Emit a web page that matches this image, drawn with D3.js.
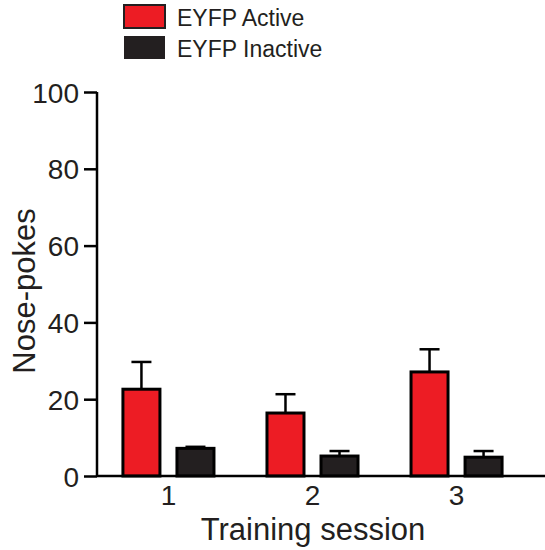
<!DOCTYPE html>
<html>
<head>
<meta charset="utf-8">
<script src="https://d3js.org/d3.v7.min.js"></script>
<style>
  body { margin: 0; background: #fff; }
  text { font-family: Arial, "Liberation Sans", sans-serif; fill: #231f20; }
</style>
</head>
<body>
<script>
// data
var sessions = ["1", "2", "3"];
var seriesNames = ["EYFP Active", "EYFP Inactive"];
var activeMean = [22.6, 16.4, 27.1];
var activeErr = [7.1, 4.9, 5.9];
var inactiveMean = [7.2, 5.2, 4.9];
var inactiveErr = [0.4, 1.3, 1.6];
var yTicks = [0, 20, 40, 60, 80, 100];

var colors = ["#ed1c24", "#231f20"];

var width = 545, height = 550;
var margin = { left: 97, right: 0, top: 92, bottom: 74 };

var svg = d3.select("body").append("svg")
  .attr("width", width)
  .attr("height", height);

var y = d3.scaleLinear().domain([0, 100]).range([height - margin.bottom, margin.top]);
var x0 = d3.scaleBand().domain(sessions).range([97, 528]).paddingInner(0.368).paddingOuter(0.18);
var x1 = d3.scaleBand().domain(seriesNames).range([0, x0.bandwidth()]).paddingInner(0.315);

var rows = sessions.map(function(s, i) {
  return [
    { s: s, k: seriesNames[0], v: activeMean[i], e: activeErr[i], c: colors[0] },
    { s: s, k: seriesNames[1], v: inactiveMean[i], e: inactiveErr[i], c: colors[1] }
  ];
});
var bars = d3.merge(rows);

// error bars (drawn first so bar sits over the stem)
var eb = svg.append("g").selectAll("g").data(bars).enter().append("g")
  .attr("transform", function(d) { return "translate(" + (x0(d.s) + x1(d.k) + x1.bandwidth() / 2) + ",0)"; });
eb.append("line")
  .attr("y1", function(d) { return y(d.v); })
  .attr("y2", function(d) { return y(d.v + d.e); })
  .attr("stroke", "#000").attr("stroke-width", 2.5);
eb.append("line")
  .attr("x1", -10).attr("x2", 10)
  .attr("y1", function(d) { return y(d.v + d.e); })
  .attr("y2", function(d) { return y(d.v + d.e); })
  .attr("stroke", "#000").attr("stroke-width", 2.5);

svg.append("g").selectAll("rect").data(bars).enter().append("rect")
  .attr("x", function(d) { return x0(d.s) + x1(d.k); })
  .attr("y", function(d) { return y(d.v); })
  .attr("width", x1.bandwidth())
  .attr("height", function(d) { return y(0) - y(d.v); })
  .attr("fill", function(d) { return d.c; })
  .attr("stroke", "#000")
  .attr("stroke-width", 3);

// y axis
var yAxis = svg.append("g")
  .attr("transform", "translate(" + margin.left + ",0)")
  .call(d3.axisLeft(y).tickValues(yTicks).tickSize(13).tickPadding(5));
yAxis.select(".domain").attr("stroke", "#000").attr("stroke-width", 2.5)
  .attr("d", "M0," + y(100) + "V" + y(0));
yAxis.selectAll(".tick line").attr("stroke", "#000").attr("stroke-width", 2.5);
yAxis.selectAll(".tick text").attr("font-size", 28).attr("dy", "0.36em")
  .style("font-family", "Arial, 'Liberation Sans', sans-serif").attr("fill", "#231f20");

// x axis
var xAxis = svg.append("g")
  .attr("transform", "translate(0," + y(0) + ")")
  .call(d3.axisBottom(x0).tickSize(0).tickPadding(9));
xAxis.select(".domain").attr("stroke", "#000").attr("stroke-width", 2.5)
  .attr("d", "M" + margin.left + ",0H" + width);
xAxis.selectAll(".tick text").attr("font-size", 28)
  .style("font-family", "Arial, 'Liberation Sans', sans-serif").attr("fill", "#231f20");

// axis titles
svg.append("text")
  .attr("transform", "translate(35,291) rotate(-90)")
  .attr("text-anchor", "middle")
  .attr("font-size", 31)
  .text("Nose-pokes");
svg.append("text")
  .attr("x", 313).attr("y", 540)
  .attr("text-anchor", "middle")
  .attr("font-size", 31)
  .text("Training session");

// legend
var leg = svg.append("g").selectAll("g").data(seriesNames).enter().append("g")
  .attr("transform", function(d, i) { return "translate(124," + (5 + i * 31) + ")"; });
leg.append("rect")
  .attr("width", 41).attr("height", 23)
  .attr("fill", function(d, i) { return colors[i]; })
  .attr("stroke", function(d, i) { return i === 0 ? "#231f20" : "none"; })
  .attr("stroke-width", 2);
leg.append("text")
  .attr("x", 53).attr("y", 21)
  .attr("font-size", 23)
  .text(function(d) { return d; });
</script>
</body>
</html>
